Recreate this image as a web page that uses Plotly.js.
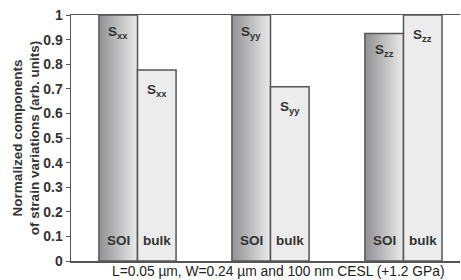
<!DOCTYPE html>
<html>
<head>
<meta charset="utf-8">
<script src="https://cdn.plot.ly/plotly-3.0.1.min.js"></script>
<style>
html,body{margin:0;padding:0;background:#fff;}
#chart{width:461px;height:280px;}
</style>
</head>
<body>
<div id="chart"></div>
<script>
// ---- data ----
const categories = ["Sxx", "Syy", "Szz"];
const componentLabels = ["S<sub>xx</sub>", "S<sub>yy</sub>", "S<sub>zz</sub>"];
const soiValues = [1.0, 1.0, 0.925];
const bulkValues = [0.776, 0.708, 1.0];
const seriesNames = ["SOI", "bulk"];
const yTickValues = [0, 0.1, 0.2, 0.3, 0.4, 0.5, 0.6, 0.7, 0.8, 0.9, 1];
const xTitle = "L=0.05 \u00b5m, W=0.24 \u00b5m and 100 nm CESL (+1.2 GPa)";
const yTitle = "Normalized components<br>of strain variations (arb. units)";

// ---- styling ----
const FONT = "Liberation Sans, Arial, sans-serif";
const BW = 0.29;          // bar width in category units
const PXU = 133;          // approx pixels per category unit
const EDGE = "#555555";
const NSLICE = 40;

function lerp(a, b, t) { return Math.round(a + (b - a) * t); }
function grad(t) {
  const c0 = [146, 146, 150], c1 = [234, 234, 234];
  return `rgb(${lerp(c0[0], c1[0], t)},${lerp(c0[1], c1[1], t)},${lerp(c0[2], c1[2], t)})`;
}

const traces = [];
// SOI bars: layered gradient (each layer runs to the right edge, so no seams)
for (let i = 0; i < NSLICE; i++) {
  const sw = BW / NSLICE;
  traces.push({
    type: "bar", x: categories, y: soiValues,
    offset: -BW + i * sw, width: BW - i * sw,
    marker: { color: grad(i / (NSLICE - 1)), line: { width: 0 } },
    hoverinfo: "skip", showlegend: false
  });
}
// SOI outline
traces.push({
  type: "bar", x: categories, y: soiValues, name: seriesNames[0],
  offset: -BW, width: BW,
  marker: { color: "rgba(0,0,0,0)", line: { color: EDGE, width: 1.5 } },
  hoverinfo: "skip", showlegend: false
});
// bulk bars
traces.push({
  type: "bar", x: categories, y: bulkValues, name: seriesNames[1],
  offset: 0, width: BW,
  marker: { color: "#ececec", line: { color: EDGE, width: 1.5 } },
  hoverinfo: "skip", showlegend: false
});

const annotations = [];
const labFont = { family: FONT, size: 13.5, color: "#333333" };
categories.forEach((c, i) => {
  annotations.push({ x: c, y: soiValues[i], xref: "x", yref: "y", text: "<b>" + componentLabels[i] + "</b>",
    showarrow: false, xanchor: "center", yanchor: "top", yshift: -7, xshift: -BW * PXU / 2, font: labFont });
  annotations.push({ x: c, y: bulkValues[i], xref: "x", yref: "y", text: "<b>" + componentLabels[i] + "</b>",
    showarrow: false, xanchor: "center", yanchor: "top", yshift: -10, xshift: BW * PXU / 2, font: labFont });
  annotations.push({ x: c, y: 0, xref: "x", yref: "y", text: "<b>" + seriesNames[0] + "</b>",
    showarrow: false, xanchor: "center", yanchor: "bottom", yshift: 11, xshift: -BW * PXU / 2, font: labFont });
  annotations.push({ x: c, y: 0, xref: "x", yref: "y", text: "<b>" + seriesNames[1] + "</b>",
    showarrow: false, xanchor: "center", yanchor: "bottom", yshift: 11, xshift: BW * PXU / 2, font: labFont });
});
annotations.push({ x: 0.534, y: 0, xref: "paper", yref: "paper", yanchor: "top", yshift: -1,
  text: xTitle, showarrow: false, font: { family: FONT, size: 13.8, color: "#222222" } });

const layout = {
  width: 461, height: 280,
  margin: { l: 71, r: 1, t: 15, b: 19, pad: 0 },
  paper_bgcolor: "#ffffff", plot_bgcolor: "#ffffff",
  barmode: "overlay",
  showlegend: false,
  font: { family: FONT, color: "#333333" },
  xaxis: {
    type: "category", range: [-0.5, 2.425],
    showticklabels: false, ticks: "", showgrid: false, zeroline: false,
    showline: true, linecolor: EDGE, linewidth: 1.5, mirror: true, fixedrange: true
  },
  yaxis: {
    range: [0, 1], tickvals: yTickValues, ticktext: yTickValues.map(v => String(v)),
    ticks: "outside", ticklen: 4, tickwidth: 1, tickcolor: EDGE,
    showgrid: false, zeroline: false, showline: true, linecolor: EDGE, linewidth: 1.5,
    tickfont: { family: FONT, size: 14, color: "#333333", weight: "bold" },
    title: { text: yTitle, standoff: 0, font: { family: FONT, size: 13.5, color: "#333333", weight: "bold" } },
    fixedrange: true
  },
  annotations: annotations
};

Plotly.newPlot("chart", traces, layout, { staticPlot: true, displayModeBar: false });
</script>
</body>
</html>
